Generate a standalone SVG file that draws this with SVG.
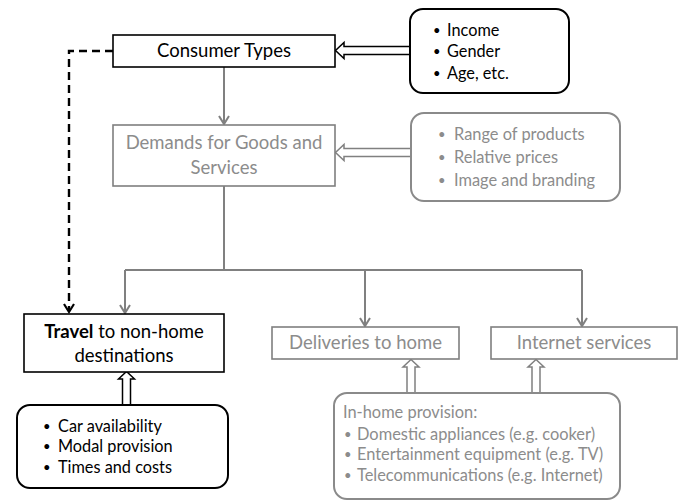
<svg xmlns="http://www.w3.org/2000/svg" width="680" height="502" viewBox="0 0 680 502">
<style>
  .bk { fill: #fff; stroke: #000; stroke-width: 1.6; }
  .bkr { fill: #fff; stroke: #000; stroke-width: 2; }
  .gy { fill: #fff; stroke: #7f7f7f; stroke-width: 1.6; }
  .gyr { fill: #fff; stroke: #8a8a8a; stroke-width: 2; }
  text { font-family: Lato, "Open Sans", "Liberation Sans", sans-serif; }
  .t1 { font-size: 18.5px; fill: #000; text-anchor: middle; }
  .t1g { font-size: 18.5px; fill: #8c8c8c; text-anchor: middle; }
  .tb { font-size: 16.3px; fill: #000; }
  .tbg { font-size: 16.4px; fill: #8c8c8c; }
  .bu { font-size: 13px; fill: #000; }
  .bug { font-size: 13px; fill: #8c8c8c; }
  .ln { fill: none; stroke: #808080; stroke-width: 2; }
  .hd { fill: none; stroke: #808080; stroke-width: 2; stroke-linejoin: miter; }
  .dash { fill: none; stroke: #000; stroke-width: 2.4; stroke-dasharray: 8 5; }
  .ba { fill: #fff; stroke: #000; stroke-width: 1.5; }
  .bag { fill: #fff; stroke: #808080; stroke-width: 1.5; }
</style>

<g id="connectors">
  <path class="dash" d="M113,51 H69 V311"/>
  <path fill="none" stroke="#000" stroke-width="2.2" d="M64,304 L69,312 L74,304"/>
  <path class="ln" d="M224,67 V123"/>
  <path class="hd" d="M219,116 L224,124 L229,116"/>
  <path class="ln" d="M224,186 V270 M125,270 H582 M125,270 V312 M365,270 V325 M582,270 V325"/>
  <path class="hd" d="M120,305 L125,313 L130,305"/>
  <path class="hd" d="M360,318 L365,326 L370,318"/>
  <path class="hd" d="M577,318 L582,326 L587,318"/>
  <path class="ba" d="M410,46.5 H344 V42.5 L335.5,50.5 L344,58.5 V54.5 H410"/>
  <path class="bag" d="M411,148.5 H344 V144.5 L335.5,152.5 L344,160.5 V156.5 H411"/>
  <path class="ba" d="M122.5,405 V379 H118.5 L126.5,371.5 L134.5,379 H130.5 V405"/>
  <path class="bag" d="M407,393 V367 H403 L411,359.5 L419,367 H415 V393"/>
  <path class="bag" d="M532,393 V367 H528 L536,359.5 L544,367 H540 V393"/>
</g>

<g id="consumer-types">
  <rect class="bk" x="113" y="35" width="222" height="32"/>
  <text class="t1" x="224" y="57">Consumer Types</text>
</g>

<g id="consumer-attributes">
  <rect class="bkr" x="410" y="9" width="159" height="84" rx="13"/>
  <text class="bu" x="433" y="35">•</text><text class="tb" x="447" y="36">Income</text>
  <text class="bu" x="433" y="56">•</text><text class="tb" x="447" y="57">Gender</text>
  <text class="bu" x="433" y="78">•</text><text class="tb" x="447" y="79">Age, etc.</text>
</g>

<g id="demands">
  <rect class="gy" x="113" y="125" width="222" height="61"/>
  <text class="t1g" x="224" y="149">Demands for Goods and</text>
  <text class="t1g" x="224" y="174">Services</text>
</g>

<g id="product-attributes">
  <rect class="gyr" x="411" y="113" width="209" height="88" rx="13"/>
  <text class="bug" x="438" y="139">•</text><text class="tbg" x="454" y="140">Range of products</text>
  <text class="bug" x="438" y="162">•</text><text class="tbg" x="454" y="163">Relative prices</text>
  <text class="bug" x="438" y="185">•</text><text class="tbg" x="454" y="186">Image and branding</text>
</g>

<g id="travel">
  <rect class="bk" x="24" y="314" width="200" height="58"/>
  <text class="t1" x="124" y="338"><tspan font-weight="bold">Travel</tspan> to non-home</text>
  <text class="t1" x="124" y="362">destinations</text>
</g>

<g id="travel-attributes">
  <rect class="bkr" x="17" y="405" width="211" height="83" rx="13"/>
  <text class="bu" x="43" y="431">•</text><text class="tb" x="58" y="432">Car availability</text>
  <text class="bu" x="43" y="451">•</text><text class="tb" x="58" y="452">Modal provision</text>
  <text class="bu" x="43" y="472">•</text><text class="tb" x="58" y="473">Times and costs</text>
</g>

<g id="deliveries">
  <rect class="gy" x="272" y="327" width="187" height="32"/>
  <text class="t1g" x="365.5" y="349">Deliveries to home</text>
</g>

<g id="internet">
  <rect class="gy" x="491" y="327" width="186" height="32"/>
  <text class="t1g" x="584" y="349">Internet services</text>
</g>

<g id="in-home">
  <rect class="gyr" x="334" y="393" width="286" height="106" rx="13"/>
  <text class="tbg" x="343" y="418">In-home provision:</text>
  <text class="bug" x="344" y="439">•</text><text class="tbg" x="357" y="440">Domestic appliances (e.g. cooker)</text>
  <text class="bug" x="344" y="459">•</text><text class="tbg" x="357" y="460">Entertainment equipment (e.g. TV)</text>
  <text class="bug" x="344" y="480">•</text><text class="tbg" x="357" y="481">Telecommunications (e.g. Internet)</text>
</g>
</svg>
